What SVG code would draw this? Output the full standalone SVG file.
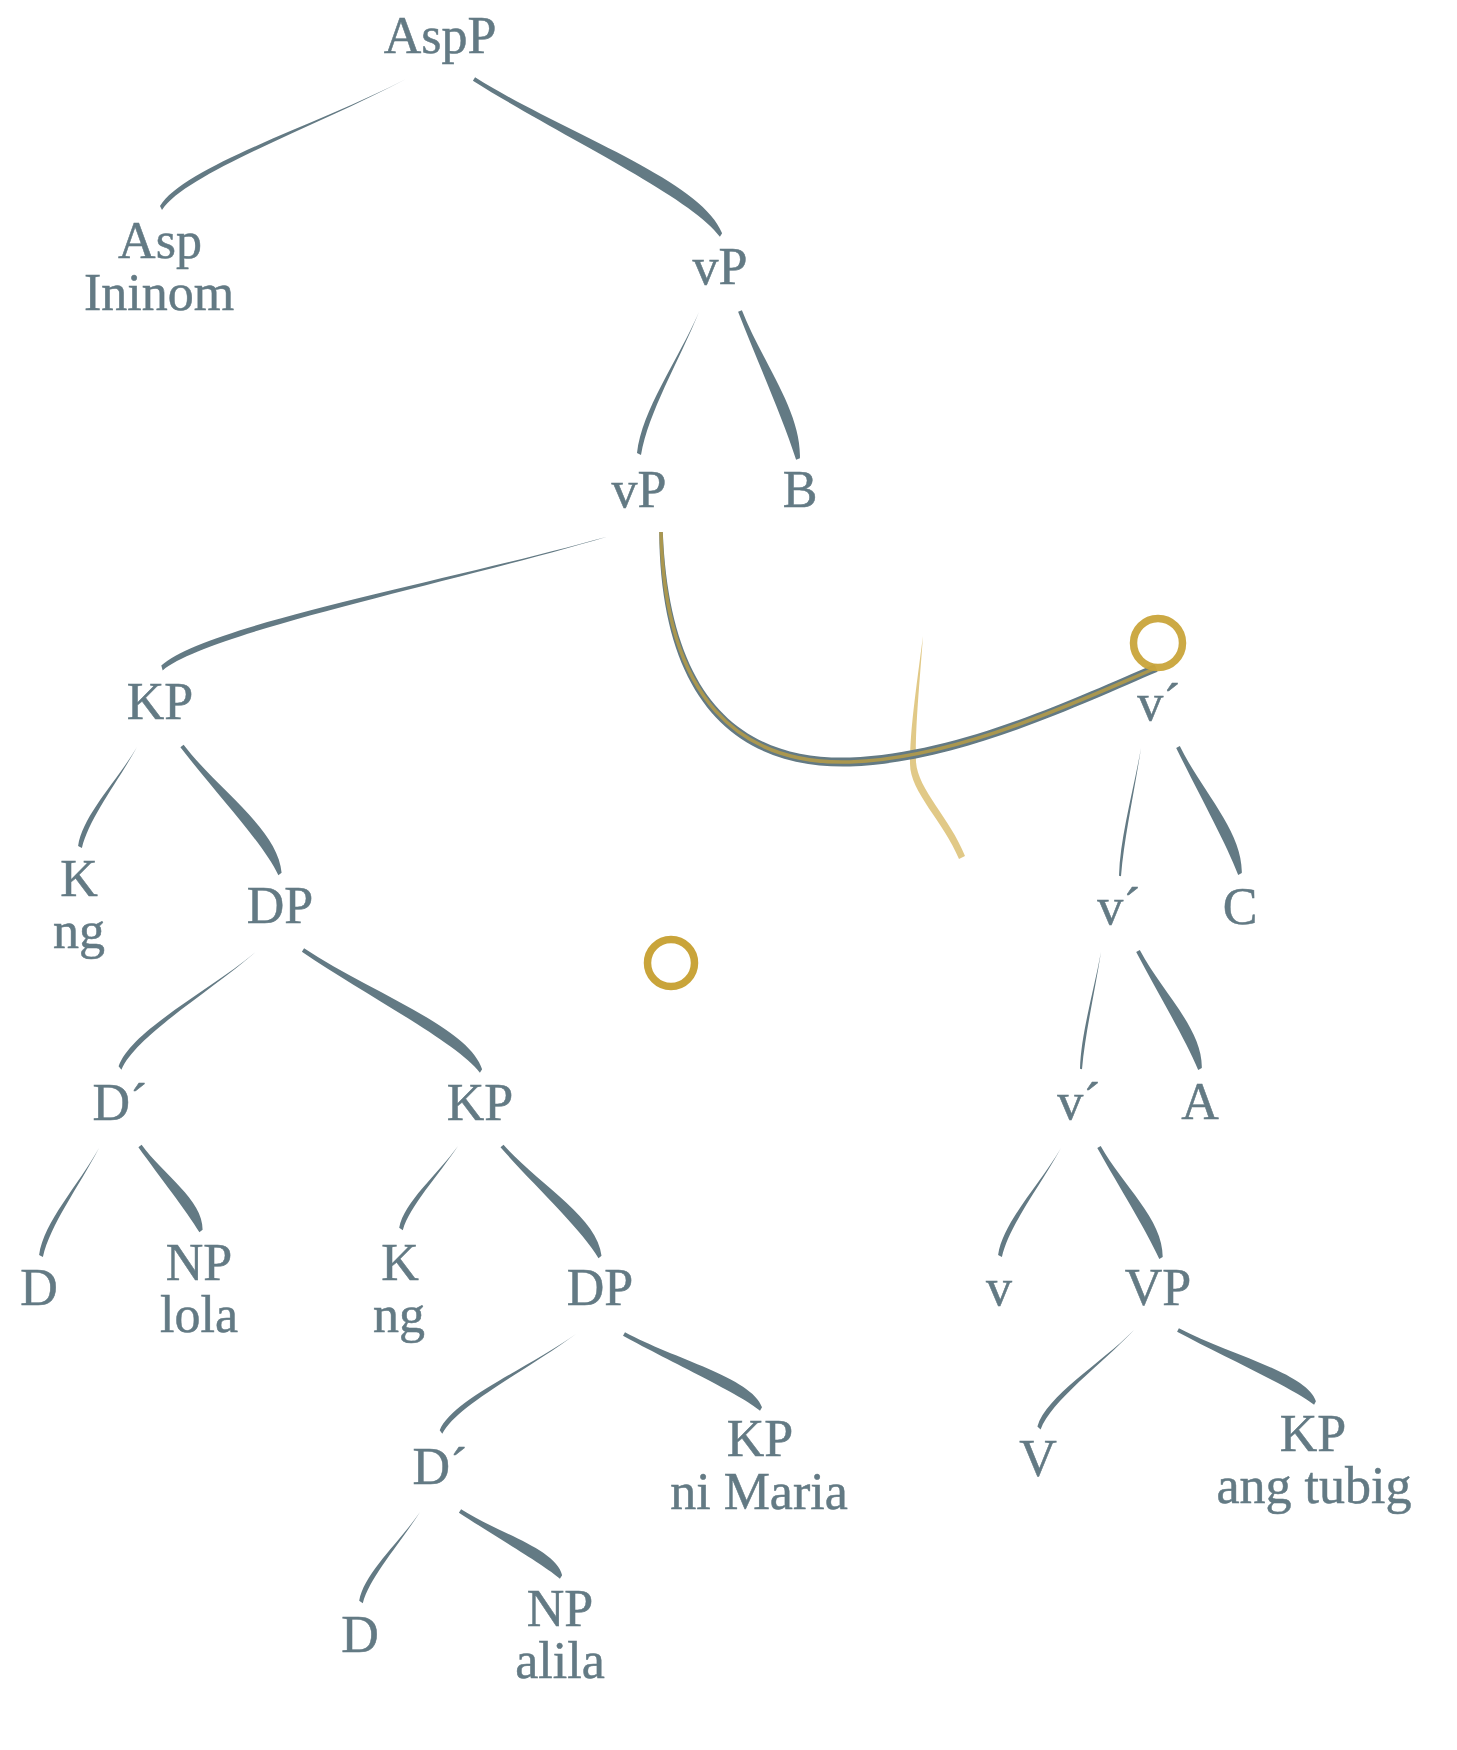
<svg xmlns="http://www.w3.org/2000/svg" width="1457" height="1750" viewBox="0 0 1457 1750">
<style>
text{font-family:"Liberation Serif",serif;font-size:52px;fill:#637a84;stroke:#637a84;stroke-width:0.5;text-anchor:middle}
.e{fill:#637a84}
.ring{fill:none;stroke:#c9a43a;stroke-width:7.5}
</style>
<rect width="1457" height="1750" fill="#ffffff"/>
<g id="connectors">
<path class="e" d="M406,79 C320.6,124.7 187.1,172.4 162,209.9 L160,206.1 C183.9,166.2 320,123.7 406,79Z"/>
<path class="e" d="M475.1,77.3 C561.6,131.9 701.6,179.7 722.1,233.3 L719.9,236.7 C691,196.7 559.4,135.3 472.9,80.7Z"/>
<path class="e" d="M699,312 C678.6,361.9 648.2,412.8 641,454.9 L637,453.1 C641.8,410 677.4,361.5 699,312Z"/>
<path class="e" d="M741.9,310.3 C762.2,362.1 801.5,411 799.9,458.3 L796.1,459.7 C782.9,418.3 758.4,363.5 738.1,311.7Z"/>
<path class="e" d="M620,533 C460,581.3 208.9,631.3 162.7,670.4 L161.3,665.6 C206.7,623.7 459.4,579.3 620,533Z"/>
<path class="e" d="M137,747 C117.5,782.3 88.7,818.7 81.9,848.1 L78.1,845.9 C82.7,815.3 116.5,781.7 137,747Z"/>
<path class="e" d="M183.6,744.8 C217.9,789.6 278.1,829.5 281.6,872.8 L278.4,875.2 C262.3,841.7 214.7,792 180.4,747.2Z"/>
<path class="e" d="M257,951 C209.4,992.5 136,1035.6 121.4,1069.7 L118.6,1066.3 C131.4,1030.2 208.6,991.5 257,951Z"/>
<path class="e" d="M304.1,948.3 C366.4,990.7 468.8,1026.4 482.1,1069.3 L479.9,1072.7 C457.6,1043 364.2,994.1 301.9,951.7Z"/>
<path class="e" d="M99,1148 C79.2,1186.1 49.9,1225.3 42.9,1257 L39.1,1255 C43.7,1221.9 78.2,1185.5 99,1148Z"/>
<path class="e" d="M141.6,1144.8 C163,1174.6 203,1199.7 202.6,1229.8 L199.4,1232.2 C186.8,1211.3 159.8,1177 138.4,1147.2Z"/>
<path class="e" d="M458,1146 C438.5,1175.3 409.6,1206.1 402.8,1230.2 L399.2,1227.8 C403.8,1202.1 437.5,1174.7 458,1146Z"/>
<path class="e" d="M503.5,1144.7 C537.8,1183.6 597.7,1217.1 601.5,1255.7 L598.5,1258.3 C582.7,1230.3 534.8,1186.2 500.5,1147.3Z"/>
<path class="e" d="M576,1334 C529.1,1368.8 456.6,1405.4 442.3,1433.8 L439.7,1430.2 C452.4,1399.8 528.3,1367.8 576,1334Z"/>
<path class="e" d="M625,1332.2 C673,1358.5 752.1,1377.7 762,1407.2 L760,1410.8 C742.5,1395.3 671,1362.1 623,1335.8Z"/>
<path class="e" d="M420,1512 C399.8,1543.8 369.8,1576.9 362.8,1603.2 L359.2,1600.8 C364,1573.1 398.8,1543.2 420,1512Z"/>
<path class="e" d="M461.1,1509.3 C496.5,1532.4 556.4,1548.8 562.1,1575.3 L559.9,1578.7 C545.4,1565.6 494.3,1535.8 458.9,1512.7Z"/>
<path class="e" d="M1141,748 C1134.2,792.9 1124.1,837.9 1121,876.2 L1119,875.8 C1120.1,837.3 1133,792.7 1141,748Z"/>
<path class="e" d="M1179.8,746.1 C1201.5,790.6 1242.8,831.5 1241.8,873.1 L1238.2,874.9 C1224.8,840.3 1197.9,792.4 1176.2,747.9Z"/>
<path class="e" d="M1101,952 C1094.6,993.1 1085,1034.2 1082,1069.2 L1080,1068.8 C1081,1033.6 1093.4,992.9 1101,952Z"/>
<path class="e" d="M1139.8,950.1 C1161.5,991.4 1202.7,1028.9 1201.8,1068.1 L1198.2,1069.9 C1184.9,1038.3 1157.9,993.2 1136.2,951.9Z"/>
<path class="e" d="M1061,1148 C1040.1,1186.1 1009.1,1225.3 1001.9,1257.1 L998.1,1254.9 C1003.1,1221.9 1039.1,1185.5 1061,1148Z"/>
<path class="e" d="M1100.7,1146 C1122.4,1184.9 1163.5,1219.8 1162.7,1257 L1159.3,1259 C1146.1,1229.6 1119,1186.9 1097.3,1148Z"/>
<path class="e" d="M1134,1330 C1101.2,1364.7 1051,1401 1040.6,1429.5 L1037.4,1426.5 C1046,1396.2 1100.4,1363.9 1134,1330Z"/>
<path class="e" d="M1178.9,1328.2 C1226.9,1353.8 1306,1372.3 1315.9,1401.2 L1314.1,1404.8 C1296.6,1389.9 1225.1,1357.4 1177.1,1331.8Z"/>
<path d="M923,636 C919,690 915,730 916,762 C918,790 950,818 965,856 L959,859 C944,822 910,792 910,764 C910,730 916,690 923,636Z" fill="#dcbf72" opacity="0.85"/>
<path class="e" d="M659.2,532 C660.5,702 738,769.5 850,766.5 C961,762.5 1081.6,703.7 1157.6,671.7 L1154.4,664.3 C1078.4,696.3 960,753.5 850,757.5 C742,760.5 669.5,699.5 662.8,532Z"/>
<path d="M661,532 C665,700 740,765 850,762 C960,758 1080,700 1156,668" fill="none" stroke="#c6a23a" stroke-width="3.5" opacity="0.72"/>
</g>
<g id="markers">
<circle class="ring" cx="1158" cy="643" r="24.5" opacity="0.95"/>
<circle class="ring" cx="671" cy="963" r="23.5"/>
</g>
<g id="n-AspP"><text x="440" y="53">AspP</text></g>
<g id="n-Asp"><text x="160" y="258">Asp</text><text x="159" y="310">Ininom</text></g>
<g id="n-vP1"><text x="720" y="284">vP</text></g>
<g id="n-vP2"><text x="639" y="507">vP</text></g>
<g id="n-B"><text x="800" y="507">B</text></g>
<g id="n-KP1"><text x="160" y="719">KP</text></g>
<g id="n-K1"><text x="79" y="896">K</text><text x="79" y="948">ng</text></g>
<g id="n-DP1"><text x="280" y="923">DP</text></g>
<g id="n-Dbar1"><text x="120" y="1120">D´</text></g>
<g id="n-KP2"><text x="480" y="1120">KP</text></g>
<g id="n-D1"><text x="39" y="1305">D</text></g>
<g id="n-NP1"><text x="199" y="1280">NP</text><text x="199" y="1332">lola</text></g>
<g id="n-K2"><text x="400" y="1280">K</text><text x="399" y="1332">ng</text></g>
<g id="n-DP2"><text x="600" y="1305">DP</text></g>
<g id="n-Dbar2"><text x="440" y="1484">D´</text></g>
<g id="n-KP3"><text x="760" y="1456">KP</text><text x="759" y="1509">ni Maria</text></g>
<g id="n-D2"><text x="360" y="1652">D</text></g>
<g id="n-NP2"><text x="560" y="1626">NP</text><text x="560" y="1678">alila</text></g>
<g id="n-vbar1"><text x="1159" y="720">v´</text></g>
<g id="n-vbar2"><text x="1119" y="924">v´</text></g>
<g id="n-C"><text x="1240" y="924">C</text></g>
<g id="n-vbar3"><text x="1079" y="1119">v´</text></g>
<g id="n-A"><text x="1200" y="1119">A</text></g>
<g id="n-v"><text x="999" y="1305">v</text></g>
<g id="n-VP"><text x="1158" y="1305">VP</text></g>
<g id="n-V"><text x="1038" y="1476">V</text></g>
<g id="n-KP4"><text x="1313" y="1451">KP</text><text x="1314" y="1503">ang tubig</text></g>
</svg>
